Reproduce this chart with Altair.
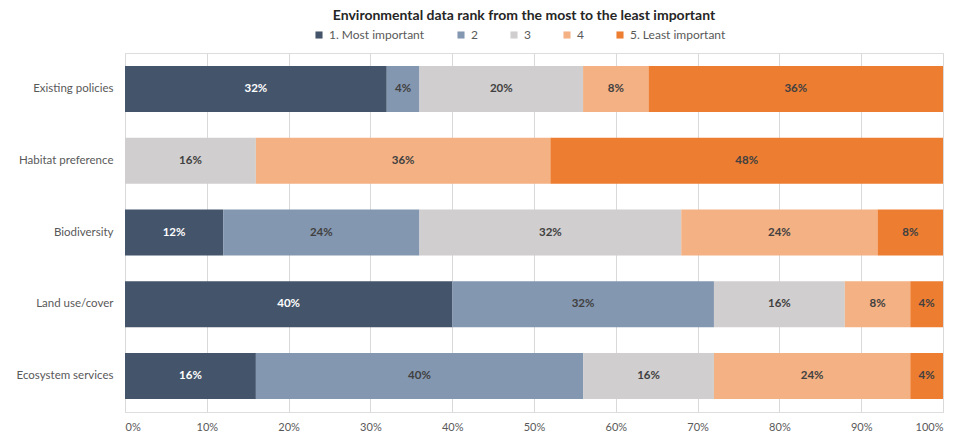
import altair as alt
import pandas as pd

categories = ["Existing policies", "Habitat preference", "Biodiversity", "Land use/cover", "Ecosystem services"]
ranks = ["1. Most important", "2", "3", "4", "5. Least important"]
colors = ["#44546A", "#8497B0", "#D0CECE", "#F4B183", "#ED7D31"]
text_colors = ["#FFFFFF", "#404040", "#404040", "#404040", "#404040"]

existing_policies = [0.32, 0.04, 0.20, 0.08, 0.36]
habitat_preference = [0.00, 0.00, 0.16, 0.36, 0.48]
biodiversity = [0.12, 0.24, 0.32, 0.24, 0.08]
land_use_cover = [0.40, 0.32, 0.16, 0.08, 0.04]
ecosystem_services = [0.16, 0.40, 0.16, 0.24, 0.04]

series = [existing_policies, habitat_preference, biodiversity, land_use_cover, ecosystem_services]
rows = []
for cat, vals in zip(categories, series):
    for i, (r, v) in enumerate(zip(ranks, vals)):
        rows.append({"category": cat, "rank": r, "order": i, "value": v,
                     "tcolor": text_colors[i]})
df = pd.DataFrame(rows)

FONT = "Lato"

base = alt.Chart(df).transform_stack(
    stack="value", groupby=["category"], as_=["x0", "x1"],
    sort=[alt.SortField("order", order="ascending")]
).transform_calculate(mid="(datum.x0 + datum.x1) / 2")

y_enc = alt.Y("category:N", sort=categories, title=None,
              scale=alt.Scale(paddingInner=0.36, paddingOuter=0.18),
              axis=alt.Axis(domain=False, ticks=False, labelFont=FONT, labelFontSize=11.5,
                            labelColor="#595959", labelPadding=12, grid=False))

bars = base.mark_bar().encode(
    x=alt.X("x0:Q", title=None,
            scale=alt.Scale(domain=[0, 1], nice=False),
            axis=alt.Axis(format=".0%", values=[i / 10 for i in range(11)], domain=False,
                          ticks=False, grid=True, gridColor="#D9D9D9", gridWidth=1,
                          labelFont=FONT, labelFontSize=11, labelColor="#595959",
                          labelPadding=9)),
    x2="x1:Q",
    y=y_enc,
    color=alt.Color("rank:N", sort=ranks, title=None,
                    scale=alt.Scale(domain=ranks, range=colors),
                    legend=alt.Legend(orient="none", direction="horizontal",
                                      legendX=188, legendY=-24,
                                      symbolType="square", symbolSize=50,
                                      symbolStrokeWidth=0,
                                      labelFont=FONT, labelFontSize=12,
                                      labelColor="#595959", columnPadding=30,
                                      labelOffset=4)),
)

labels = base.transform_filter("datum.value > 0").mark_text(
    font=FONT, fontSize=11.5, fontWeight="bold"
).encode(
    x=alt.X("mid:Q"),
    y=alt.Y("category:N", sort=categories),
    text=alt.Text("value:Q", format=".0%"),
    color=alt.Color("tcolor:N", scale=None),
)

chart = alt.layer(bars, labels).properties(
    width=965, height=436,
    autosize=alt.AutoSizeParams(type="fit", contains="padding"),
    padding={"left": 16, "right": 22, "top": 9, "bottom": 4},
    title=alt.TitleParams("Environmental data rank from the most to the least important",
                          font=FONT, fontSize=14, fontWeight="bold", color="#262626",
                          anchor="middle", dx=-10, offset=30),
).configure_view(stroke=None).configure(background="white")

chart.save("out.html", embed_options={"renderer": "svg", "actions": False})
